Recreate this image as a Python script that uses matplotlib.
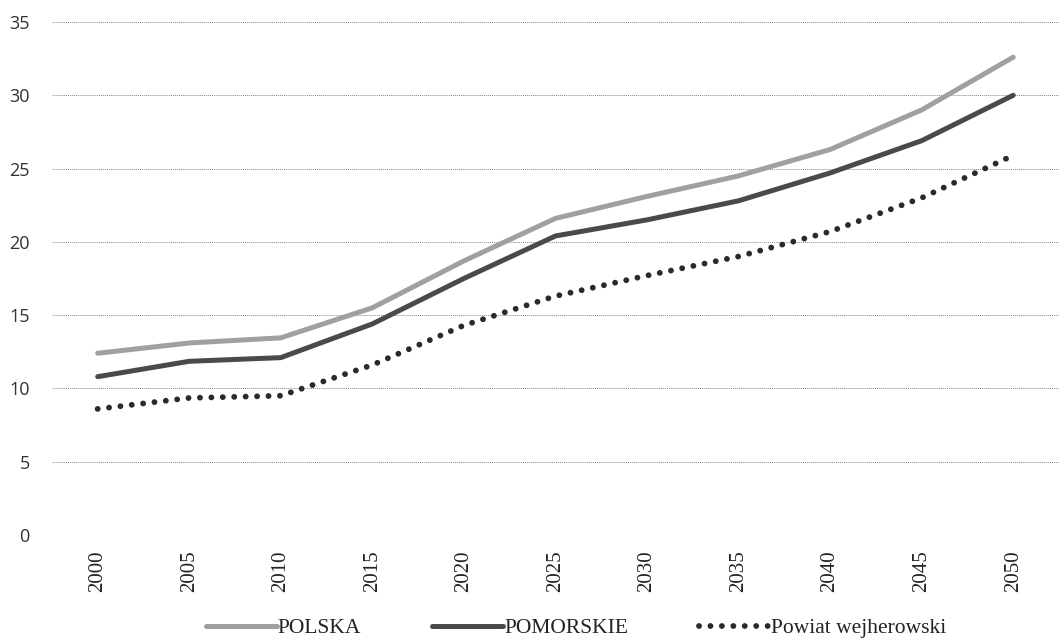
import matplotlib
matplotlib.use("Agg")
import matplotlib.pyplot as plt

# data
years = [2000, 2005, 2010, 2015, 2020, 2025, 2030, 2035, 2040, 2045, 2050]
polska = [12.4, 13.1, 13.45, 15.5, 18.7, 21.6, 23.1, 24.5, 26.3, 29.0, 32.6]
pomorskie = [10.8, 11.85, 12.1, 14.4, 17.5, 20.4, 21.5, 22.8, 24.7, 26.9, 30.0]
wejherowski = [8.6, 9.35, 9.5, 11.6, 14.3, 16.3, 17.7, 19.0, 20.7, 23.0, 25.9]
yticks = [0, 5, 10, 15, 20, 25, 30, 35]

fig = plt.figure(figsize=(10.59, 6.41), dpi=100)
ax = fig.add_axes([0.049, 0.1654, 0.951, 0.8003])

x = list(range(len(years)))
ax.plot(x, polska, color="#a0a0a0", lw=3.6, solid_capstyle="round", label="POLSKA", zorder=3)
ax.plot(x, pomorskie, color="#4a4a4a", lw=3.6, solid_capstyle="round", label="POMORSKIE", zorder=3)
ax.plot(x, wejherowski, color="#2a2a2a", lw=4.2, linestyle=(0, (0.01, 1.95)),
        dash_capstyle="round", label="Powiat wejherowski", zorder=3)

ax.set_xlim(-0.5, len(years) - 0.5)
ax.set_ylim(0, 35)
ax.set_yticks(yticks)
ax.set_yticklabels([str(v) for v in yticks], fontsize=13, color="#333333",
                   family="Open Sans")
ax.set_xticks(x)
ax.set_xticklabels([str(y) for y in years], rotation=90, fontsize=15,
                   family="Liberation Serif", color="#222222")
ax.tick_params(axis="x", length=0, pad=11)
ax.tick_params(axis="y", length=0, pad=16)

ax.yaxis.grid(True, color="#8a8a8a", lw=0.7, linestyle=(0, (1, 1)))
ax.set_axisbelow(True)
for s in ax.spines.values():
    s.set_visible(False)

leg = fig.legend(loc="center", bbox_to_anchor=(0.544, 0.02), ncol=3, frameon=False,
                 handlelength=3.3, handletextpad=0.05, columnspacing=3.3,
                 prop={"family": "Liberation Serif", "size": 15.5})
for t in leg.get_texts():
    t.set_color("#222222")

fig.savefig("out.png", dpi=100, facecolor="white")
